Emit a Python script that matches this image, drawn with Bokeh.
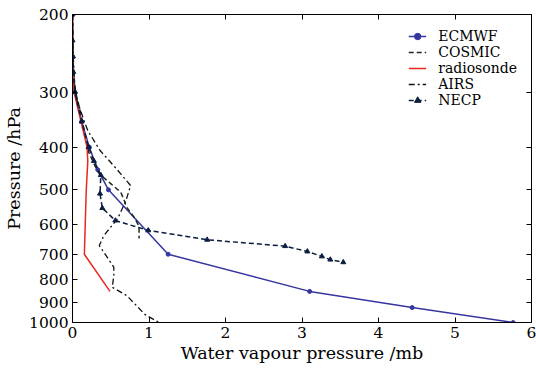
from bokeh.plotting import figure
from bokeh.models import Range1d, FixedTicker, LinearAxis, LogAxis, Legend
from bokeh.embed import file_html
from bokeh.resources import INLINE

# ---- data ----
x_ticks = [0, 1, 2, 3, 4, 5, 6]
y_ticks = [200, 300, 400, 500, 600, 700, 800, 900, 1000]
y_tick_labels = ["200", "300", "400", "500", "600", "700", "800", "900", "1000"]

ecmwf_p = [200, 250, 300, 350, 400, 450, 500, 700, 850, 925, 1000]
ecmwf_e = [0.0, 0.005, 0.03, 0.12, 0.22, 0.33, 0.47, 1.25, 3.10, 4.44, 5.76]

cosmic_p = [200, 230, 250, 270, 300, 330, 350, 380, 410, 440, 460, 484, 506, 530, 545, 575, 605, 645]
cosmic_e = [0.0, 0.0, 0.005, 0.01, 0.04, 0.10, 0.13, 0.17, 0.21, 0.29, 0.35, 0.50, 0.63, 0.68, 0.70, 0.80, 0.87, 0.87]

radio_p = [200, 250, 300, 400, 430, 500, 700, 850]
radio_e = [0.0, 0.005, 0.02, 0.19, 0.20, 0.18, 0.155, 0.49]

airs_p = [200, 250, 290, 313, 348, 367, 407, 448, 489, 528, 581, 635, 669, 693, 749, 782, 832, 869, 960, 1000]
airs_e = [0.0, 0.01, 0.03, 0.06, 0.15, 0.20, 0.36, 0.575, 0.76, 0.70, 0.59, 0.41, 0.35, 0.41, 0.54, 0.54, 0.52, 0.71, 0.95, 1.13]

necp_p = [200, 229, 249, 270, 300, 350, 400, 430, 463, 510, 550, 587, 618, 649, 671, 690, 708, 720, 730]
necp_e = [0.0, 0.0, 0.005, 0.01, 0.03, 0.12, 0.21, 0.28, 0.37, 0.36, 0.39, 0.56, 0.99, 1.76, 2.78, 3.07, 3.26, 3.37, 3.54]

FONT = "DejaVu Serif"

p = figure(width=536, height=368, output_backend="svg", toolbar_location=None,
           y_axis_type="log", x_range=Range1d(0, 6), y_range=Range1d(1000, 200),
           min_border_left=72, min_border_right=5, min_border_top=14, min_border_bottom=46)
p.xgrid.visible = False
p.ygrid.visible = False
p.outline_line_color = "black"
p.outline_line_width = 1
p.background_fill_color = "white"
p.border_fill_color = "white"

# axes
for ax in p.xaxis:
    ax.ticker = FixedTicker(ticks=x_ticks, minor_ticks=[])
    ax.axis_label = "Water vapour pressure /mb"
for ax in p.yaxis:
    ax.ticker = FixedTicker(ticks=y_ticks, minor_ticks=[])
    ax.major_label_overrides = {t: l for t, l in zip(y_ticks, y_tick_labels)}
    ax.axis_label = "Pressure /hPa"
for ax in list(p.xaxis) + list(p.yaxis):
    ax.major_tick_in = 5
    ax.major_tick_out = 0
    ax.minor_tick_in = 0
    ax.minor_tick_out = 0
    ax.axis_line_color = "black"
    ax.major_tick_line_color = "black"
    ax.major_label_text_font = FONT
    ax.major_label_text_font_size = "15.5px"
    ax.major_label_text_color = "black"
    ax.axis_label_text_font = FONT
    ax.axis_label_text_font_size = "17.5px"
    ax.axis_label_text_font_style = "normal"
    ax.axis_label_text_color = "black"
    ax.axis_label_standoff = 2
    ax.major_label_standoff = 4

top = LinearAxis(ticker=FixedTicker(ticks=x_ticks, minor_ticks=[]), major_tick_in=5, major_tick_out=0,
                 minor_tick_in=0, minor_tick_out=0,
                 major_label_overrides={t: "" for t in x_ticks},
                 major_label_standoff=0, axis_line_color="black")
right = LogAxis(ticker=FixedTicker(ticks=y_ticks, minor_ticks=[]), major_tick_in=5, major_tick_out=0,
                minor_tick_in=0, minor_tick_out=0,
                major_label_overrides={t: "" for t in y_ticks},
                major_label_standoff=0, axis_line_color="black")
p.add_layout(top, "above")
p.add_layout(right, "right")

# series
blue = "#3636a0"
navy = "#0b1d3f"
r1 = p.line(ecmwf_e, ecmwf_p, color=blue, line_width=1.5)
s1 = p.scatter(ecmwf_e, ecmwf_p, marker="circle", size=4, color=blue)
r2 = p.line(cosmic_e, cosmic_p, color="#1c2a1c", line_width=1.5, line_dash="5 3")
r3 = p.line(radio_e, radio_p, color="#e8271d", line_width=1.5)
r4 = p.line(airs_e, airs_p, color="#111111", line_width=1.3, line_dash="6 3 2 3")
r5 = p.line(necp_e, necp_p, color=navy, line_width=1.5, line_dash="5 3")
s5 = p.scatter(necp_e, necp_p, marker="triangle", size=5, color=navy)

legend = Legend(items=[("ECMWF", [r1, s1]), ("COSMIC", [r2]), ("radiosonde", [r3]),
                       ("AIRS", [r4]), ("NECP", [r5, s5])],
                location="top_right", border_line_color=None, background_fill_alpha=0,
                label_text_font=FONT, label_text_font_size="14px", label_text_color="black",
                glyph_width=18, glyph_height=16, label_height=16, label_standoff=12,
                spacing=0, padding=6, margin=14)
p.add_layout(legend)

open("out.html", "w").write(file_html(p, INLINE))
